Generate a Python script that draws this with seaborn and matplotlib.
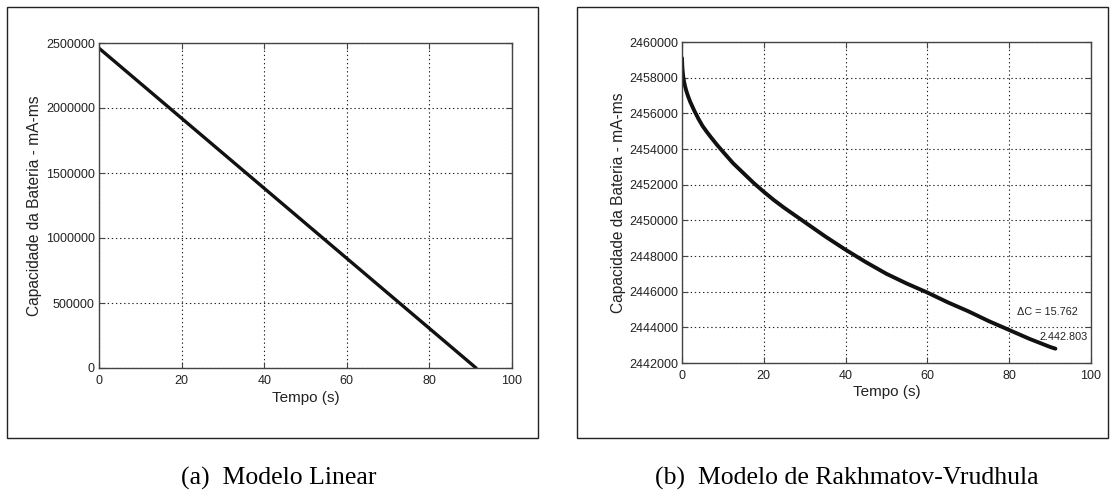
import numpy as np
import pandas as pd
import matplotlib
matplotlib.use("Agg")
import matplotlib.pyplot as plt
import matplotlib.ticker as mticker
from matplotlib.patches import Rectangle
import seaborn as sns

# ---- data ----
t_linear = [0.0, 91.3]
cap_linear = [2460000, 0]

t_rv = [0.0, 0.05, 0.1, 0.2, 0.3, 0.5, 0.75, 1, 1.5, 2, 3, 4, 5, 6, 7, 8.5, 10,
        12.5, 15, 17.5, 20, 22.5, 25, 27.5, 30, 35, 40, 45, 50, 55, 60,
        65, 70, 75, 80, 85, 90, 91.3]
cap_rv = [2459100, 2458750, 2458550, 2458280, 2458050, 2457780, 2457520, 2457300,
          2456950, 2456650, 2456150, 2455700, 2455300, 2454980, 2454680, 2454250,
          2453850, 2453200, 2452650, 2452100, 2451600, 2451130, 2450700, 2450300,
          2449900, 2449100, 2448350, 2447650, 2447000, 2446450, 2445950, 2445400,
          2444900, 2444350, 2443850, 2443350, 2442900, 2442803]

xticks = [0, 20, 40, 60, 80, 100]
yticks_a = [0, 500000, 1000000, 1500000, 2000000, 2500000]
yticks_b = [2442000, 2444000, 2446000, 2448000, 2450000, 2452000, 2454000,
            2456000, 2458000, 2460000]

xlabel = "Tempo (s)"
ylabel = "Capacidade da Bateria - mA-ms"
captions = ["(a)  Modelo Linear", "(b)  Modelo de Rakhmatov-Vrudhula"]
ann_delta = "\u0394C = 15.762"
ann_end = "2.442.803"

# ---- styling ----
sns.set_theme(style="white")
plt.rcParams["font.family"] = ["Liberation Sans", "DejaVu Sans"]

W, H = 1113, 492
fig = plt.figure(figsize=(W / 100, H / 100), dpi=100)

def fig_rect(x0, y0, x1, y1):
    return [x0 / W, 1 - y1 / H, (x1 - x0) / W, (y1 - y0) / H]

# outer frames
for (x0, y0, x1, y1) in [(7, 7, 538, 438), (577, 7, 1108, 438)]:
    fig.patches.append(Rectangle((x0 / W, 1 - y1 / H), (x1 - x0) / W, (y1 - y0) / H,
                                 transform=fig.transFigure, fill=False,
                                 edgecolor="#222222", linewidth=1.0))

ax1 = fig.add_axes(fig_rect(99, 43, 512, 368))
ax2 = fig.add_axes(fig_rect(682, 42, 1091, 363))

df_a = pd.DataFrame({"t": t_linear, "c": cap_linear})
df_b = pd.DataFrame({"t": t_rv, "c": cap_rv})

sns.lineplot(data=df_a, x="t", y="c", ax=ax1, color="#111111", linewidth=2.4)
sns.lineplot(data=df_b, x="t", y="c", ax=ax2, color="#111111", linewidth=2.8)

def style(ax, yticks, ylim):
    ax.set_xlim(0, 100)
    ax.set_ylim(*ylim)
    ax.set_xticks(xticks)
    ax.set_yticks(yticks)
    fmt = mticker.ScalarFormatter(useOffset=False)
    fmt.set_scientific(False)
    ax.yaxis.set_major_formatter(fmt)
    ax.grid(True, color="#222222", linestyle=(0, (1.2, 2.5)), linewidth=0.8)
    for s in ax.spines.values():
        s.set_color("#444444")
        s.set_linewidth(1.0)
    ax.tick_params(direction="in", length=4, width=0.8, color="#444444",
                   labelsize=9, labelcolor="#222222", pad=3,
                   top=True, right=True, bottom=True, left=True)
    ax.tick_params(axis="x", pad=5)
    ax.set_xlabel(xlabel, fontsize=11, color="#222222")
    ax.set_ylabel(ylabel, fontsize=11.2, color="#222222")
    ax.xaxis.set_label_coords(0.5, -0.07)
    ax.yaxis.set_label_coords(-0.138, 0.5)

style(ax1, yticks_a, (0, 2500000))
style(ax2, yticks_b, (2442000, 2460000))

ax2.text(82.0, 2444860, ann_delta, fontsize=7.8, color="#222222", va="center", ha="left")
ax2.text(87.3, 2443450, ann_end, fontsize=7.8, color="#222222", va="center", ha="left")

fig.text(279 / W, 1 - 485 / H, captions[0], fontsize=18.5, family=["Liberation Serif"],
         ha="center", va="baseline", color="black")
fig.text(847 / W, 1 - 485 / H, captions[1], fontsize=18.5, family=["Liberation Serif"],
         ha="center", va="baseline", color="black")

fig.savefig("out.png", dpi=100)
